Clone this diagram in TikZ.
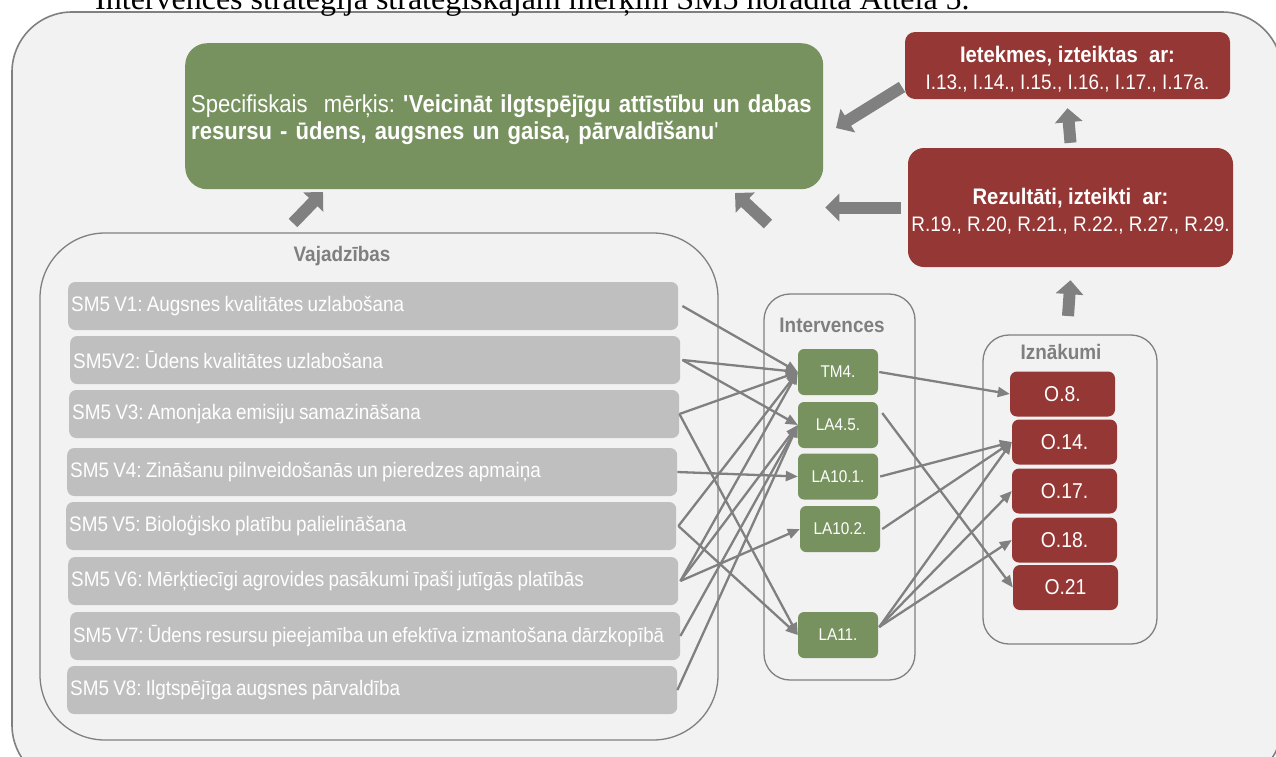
\documentclass[tikz,border=0pt]{standalone}
\usepackage{fontspec}
\setmainfont{Liberation Sans}[FakeStretch=0.9]
\newfontfamily\topfont{Liberation Serif}
\usetikzlibrary{arrows.meta}
\definecolor{bgc}{HTML}{F2F2F2}
\definecolor{linec}{HTML}{808080}
\definecolor{greenc}{HTML}{77925F}
\definecolor{redc}{HTML}{953735}
\definecolor{needc}{HTML}{BFBFBF}
\definecolor{titlec}{HTML}{7F7F7F}
\frenchspacing
\tikzset{
  outerbox/.style={draw=linec, line width=1.6pt, fill=bgc, rounded corners=60pt},
  groupbox/.style={draw=linec, line width=1.3pt, rounded corners=#1},
  grouptitle/.style={text=titlec, font=\bfseries\fontsize{21}{23}\selectfont, inner sep=0pt},
  needbox/.style={fill=needc, rounded corners=7pt, minimum height=48pt, text width=604pt,
    inner xsep=3pt, inner ysep=0pt, align=left, text=white, anchor=west,
    font=\fontsize{21}{23}\selectfont,
    execute at begin node={\spaceskip=4.2pt plus 1pt minus 1pt\relax}},
  ivbox/.style={fill=greenc, rounded corners=6pt, minimum width=80pt, minimum height=46pt,
    inner sep=0pt, text=white, font=\fontsize{17}{19}\selectfont},
  outbox/.style={fill=redc, rounded corners=7pt, minimum width=105pt, minimum height=45pt,
    inner sep=0pt, text=white, font=\fontsize{21.5}{23}\selectfont},
  resbox/.style={fill=redc, rounded corners=#1, inner sep=0pt, text=white, align=center,
    font=\fontsize{21}{27}\selectfont},
  conn/.style={draw=linec, line width=2.3pt, -{Triangle[length=12pt,width=10pt]}},
  blk/.style={draw=linec, line width=12pt, -{Triangle[length=14pt,width=27pt]}},
}
\begin{document}
\begin{tikzpicture}[x=1pt,y=-1pt]
\useasboundingbox (0,0) rectangle (1276,756);
\clip (0,0) rectangle (1276,756);
\fill[white] (0,0) rectangle (1276,756);
% outer frame
\draw[outerbox] (12,12) rectangle (1282,785);
% heading (cut at top)
\node[anchor=base west, inner sep=0pt, font=\topfont\fontsize{32}{34}\selectfont] (heading) at (95,9)
  {Intervences stratēģija stratēģiskajam mērķim SM5 norādīta Attēlā 5.};

% goal box
\node[fill=greenc, rounded corners=22pt, anchor=north west, minimum height=146pt,
  text width=626pt, inner xsep=6pt, align=left, text=white,
  font=\fontsize{24.5}{27}\selectfont] (goal) at (185,43)
  {\rule{0pt}{25pt}Specifiskais~ mērķis: \textbf{\textquotesingle Veicināt ilgtspējīgu attīstību un dabas\\ resursu - ūdens, augsnes un gaisa, pārvaldīšanu}\textquotesingle};

% impacts and results
\node[resbox=10pt, minimum width=325pt, minimum height=67pt] (imp) at (1067.5,65.5)
  {\rule{0pt}{24pt}{\bfseries\fontsize{22.5}{27}\selectfont Ietekmes, izteiktas~ ar:}\\I.13., I.14., I.15., I.16., I.17., I.17a.};
\node[resbox=16pt, minimum width=325pt, minimum height=119pt] (res) at (1070.5,207.5)
  {\rule{0pt}{24pt}{\bfseries\fontsize{22.5}{27}\selectfont Rezultāti, izteikti~ ar:}\\R.19., R.20, R.21., R.22., R.27., R.29.};

% group containers
\draw[groupbox=65pt] (40,233) rectangle (718,740);
\node[grouptitle] (vajt) at (342,256) {Vajadzības};
\draw[groupbox=26pt] (764,294) rectangle (915,680);
\node[grouptitle] (ivt) at (832,325) {Intervences};
\draw[groupbox=26pt] (983,335) rectangle (1157,644);
\node[grouptitle] (izt) at (1061,352) {Iznākumi};

% needs
\node[needbox] (v1) at (68,306) {SM5 V1: Augsnes kvalitātes uzlabošana};
\node[needbox] (v2) at (70,360) {SM5V2: Ūdens kvalitātes uzlabošana};
\node[needbox] (v3) at (69,414) {SM5 V3: Amonjaka emisiju samazināšana};
\node[needbox] (v4) at (67,472) {SM5 V4: Zināšanu pilnveidošanās un pieredzes apmaiņa};
\node[needbox] (v5) at (66,526) {SM5 V5: Bioloģisko platību palielināšana};
\node[needbox] (v6) at (68,581) {SM5 V6: Mērķtiecīgi agrovides pasākumi īpaši jutīgās platībās};
\node[needbox, font=\fontsize{20.8}{23}\selectfont,
  execute at begin node={\spaceskip=3.9pt plus 1pt minus 1pt\relax}] (v7) at (70,636)
  {SM5 V7: Ūdens resursu pieejamība un efektīva izmantošana dārzkopībā};
\node[needbox] (v8) at (67,690) {SM5 V8: Ilgtspējīga augsnes pārvaldība};

% interventions
\node[ivbox] (tm4) at (838,372) {TM4.};
\node[ivbox] (la45) at (838,425) {LA4.5.};
\node[ivbox] (la101) at (838,476.5) {LA10.1.};
\node[ivbox] (la102) at (840,529) {LA10.2.};
\node[ivbox] (la11) at (838,635) {LA11.};

% outputs
\node[outbox] (o8) at (1062.5,394) {O.8.};
\node[outbox] (o14) at (1064.5,442) {O.14.};
\node[outbox] (o17) at (1064.5,491) {O.17.};
\node[outbox] (o18) at (1064.5,540) {O.18.};
\node[outbox] (o21) at (1065.5,587.5) {O.21};

% needs -> interventions
\draw[conn] ([xshift=4pt]v1.east) -- (tm4.west);
\draw[conn] ([xshift=2pt]v2.east) -- (tm4.west);
\draw[conn] ([xshift=2pt]v2.east) -- (la45.west);
\draw[conn] ([xshift=0pt]v3.east) -- (tm4.west);
\draw[conn] ([xshift=0pt]v3.east) -- (la11.west);
\draw[conn] ([xshift=0pt]v4.east) -- (la101.west);
\draw[conn] ([xshift=2pt]v5.east) -- (tm4.west);
\draw[conn] ([xshift=2pt]v5.east) -- (la11.west);
\draw[conn] ([xshift=2pt]v6.east) -- (tm4.west);
\draw[conn] ([xshift=2pt]v6.east) -- (la45.west);
\draw[conn] ([xshift=2pt]v6.east) -- (la102.west);
\draw[conn] ([xshift=0pt]v7.east) -- (la45.west);
\draw[conn] ([xshift=0pt]v8.east) -- (la45.west);

% interventions -> outputs
\draw[conn] ([xshift=1pt]tm4.east) -- (o8.west);
\draw[conn] ([xshift=4pt,yshift=12pt]la45.east) -- (o21.west);
\draw[conn] ([xshift=2pt]la101.east) -- (o14.west);
\draw[conn] ([xshift=2pt]la102.east) -- (o14.west);
\draw[conn] ([xshift=1pt,yshift=8pt]la11.east) -- (o14.west);
\draw[conn] ([xshift=1pt,yshift=8pt]la11.east) -- (o17.west);
\draw[conn] ([xshift=1pt,yshift=8pt]la11.east) -- (o18.west);

% block arrows
\coordinate (b1s) at (293,223); \coordinate (b1e) at (323,192);
\draw[blk] (b1s) -- (b1e);
\coordinate (b2s) at (768,224); \coordinate (b2e) at (735,193);
\draw[blk] (b2s) -- (b2e);
\draw[blk] ([xshift=-7pt]res.west) -- ([xshift=2pt]res.west -| goal.east);
\coordinate (b4s) at (902,87); \coordinate (b4e) at (836,128);
\draw[blk] (b4s) -- (b4e);
\draw[blk] ([yshift=5pt]res.north) -- ([yshift=-9pt]imp.south);
\coordinate (b6s) at (1068,316);
\draw[blk] (b6s) -- ([yshift=-13pt]res.south);
\end{tikzpicture}
\end{document}
